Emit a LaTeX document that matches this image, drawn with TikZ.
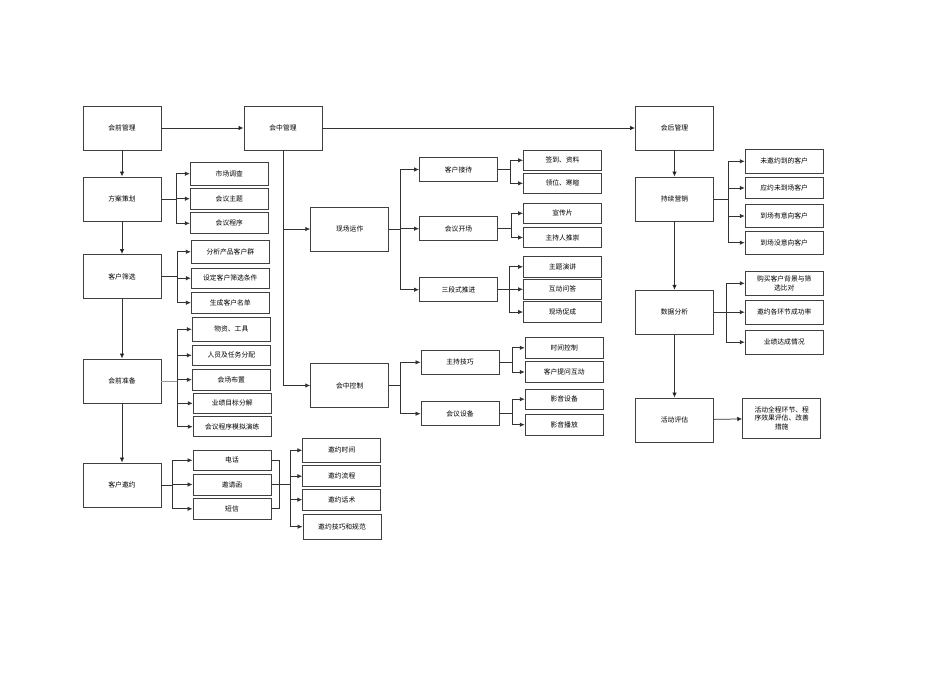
\documentclass[tikz,border=0pt]{standalone}
\usepackage{fontspec}
\setmainfont{Noto Sans CJK SC}
\usetikzlibrary{arrows.meta}

\begin{document}
\begin{tikzpicture}[x=1pt, y=-1pt, font=\fontsize{6.8}{8.2}\selectfont,
  bigbox/.style={shape=rectangle, draw=black!75, line width=0.9pt, minimum width=78, minimum height=44},
  subbox/.style={shape=rectangle, draw=black!75, line width=0.9pt, minimum width=78, minimum height=#1, inner sep=1pt, align=center},
  subbox/.default=21,
  link/.style={draw=black!80, line width=0.75pt},
  arr/.style={link, -{Latex[length=5pt,width=4.5pt]}}]
\useasboundingbox (0,0) rectangle (950,672);
% main boxes
\node[bigbox] (qg) at (122,128) {会前管理};
\node[bigbox] (zg) at (283,128) {会中管理};
\node[bigbox] (hg) at (674.5,128) {会后管理};
\node[bigbox] (fa) at (122,199) {方案策划};
\node[bigbox] (sx) at (122,276.5) {客户筛选};
\node[bigbox] (zb) at (122,381) {会前准备};
\node[bigbox] (yy) at (122,485) {客户邀约};
\node[bigbox] (xc) at (349.7,229) {现场运作};
\node[bigbox] (kc) at (349.7,385.5) {会中控制};
\node[bigbox] (cx) at (674.5,199) {持续营销};
\node[bigbox] (sj) at (674.5,312.3) {数据分析};
\node[bigbox] (pg) at (674.5,420) {活动评估};
% before the meeting
\node[subbox=22.7] (scdc) at (229.3,173.7) {市场调查};
\node[subbox] (hyzt) at (229.3,198.7) {会议主题};
\node[subbox] (hycx) at (229.3,223.3) {会议程序};
\node[subbox=23.7] (fxcp) at (230.3,251.8) {分析产品客户群};
\node[subbox=20.3] (sdtj) at (230.3,278.2) {设定客户筛选条件};
\node[subbox=20.7] (scmd) at (230.3,302.7) {生成客户名单};
\node[subbox=24] (wz) at (231.3,329.3) {物资、工具};
\node[subbox=20] (ry) at (231.3,355.3) {人员及任务分配};
\node[subbox=20.7] (hcbz) at (231.3,379.7) {会场布置};
\node[subbox=20] (yjmb) at (232.2,403.3) {业绩目标分解};
\node[subbox=20] (mnyl) at (232.2,426.7) {会议程序模拟演练};
\node[subbox=20.7] (dh) at (232,460.3) {电话};
\node[subbox] (yqh) at (232,484.5) {邀请函};
\node[subbox] (dx) at (232,508.8) {短信};
\node[subbox=24] (yysj) at (341.7,450.3) {邀约时间};
\node[subbox] (yylc) at (341.7,476.2) {邀约流程};
\node[subbox=20.7] (yyhs) at (341.7,499.7) {邀约话术};
\node[subbox=25.3] (yyjq) at (342,526.7) {邀约技巧和规范};
% during the meeting
\node[subbox=24.3] (khjd) at (458.5,169.5) {客户接待};
\node[subbox=24] (hykc) at (458.5,228.7) {会议开场};
\node[subbox=24] (sdts) at (458.5,289.7) {三段式推进};
\node[subbox=20.7] (qd) at (562.5,160.3) {签到、资料};
\node[subbox=20] (lw) at (562.5,183.3) {领位、寒暄};
\node[subbox=20] (xcp) at (562.5,213.3) {宣传片};
\node[subbox=20.3] (zcr) at (562.5,237.5) {主持人推崇};
\node[subbox=20.3] (ztyj) at (562.5,266.8) {主题演讲};
\node[subbox=20] (hdwd) at (562.5,289.3) {互动问答};
\node[subbox=20.7] (xccc) at (562.5,312) {现场促成};
\node[subbox=23.3] (zcjq) at (460,362.3) {主持技巧};
\node[subbox=24] (hysb) at (460,413.7) {会议设备};
\node[subbox] (sjkz) at (564.2,347.8) {时间控制};
\node[subbox=20.7] (khtw) at (564.2,372) {客户提问互动};
\node[subbox=20.3] (yysb) at (564.2,399.2) {影音设备};
\node[subbox=20.7] (yybf) at (564.2,424.7) {影音播放};
% after the meeting
\node[subbox=24] (wyy) at (784.2,161.3) {未邀约到的客户};
\node[subbox=20.7] (yyw) at (784.2,188) {应约未到场客户};
\node[subbox=23.3] (dcyyx) at (784.2,216) {到场有意向客户};
\node[subbox=23.3] (dcmyx) at (784.2,242.7) {到场没意向客户};
\node[subbox=23.3] (gmkh) at (784.2,283.3) {购买客户背景与筛\\选比对};
\node[subbox=24.3] (yygh) at (784.2,312.2) {邀约各环节成功率};
\node[subbox=24.3] (yjdc) at (784.2,342.2) {业绩达成情况};
\node[subbox=40] (hdqc) at (781.7,418.3) {活动全程环节、程\\序效果评估、改善\\措施};
% main flow
\path[arr] (qg) edge (zg);
\path[arr] (zg) edge (hg);
\path[arr] (qg) edge (fa);
\path[arr] (fa) edge (sx);
\path[arr] (sx) edge (zb);
\path[arr] (zb) edge (yy);
\path[arr] (hg) edge (cx);
\path[arr] (cx) edge (sj);
\path[arr] (sj) edge (pg);
\path[arr] (pg) edge (hdqc);
\draw[arr] (zg.south) |- (xc.west);
\draw[arr] (zg.south) |- (kc.west);
% forks
\foreach \c in {scdc,hyzt,hycx} \draw[arr] (fa.east) -- ++(15,0) |- (\c.west);
\foreach \c in {fxcp,sdtj,scmd} \draw[arr] (sx.east) -- ++(16,0) |- (\c.west);
\draw[link, draw=black!40] (zb.east) -- ++(16,0);
\foreach \c in {wz,ry,hcbz,yjmb,mnyl} \draw[arr] ([xshift=16]zb.east) |- (\c.west);
\foreach \c in {dh,yqh,dx} \draw[arr] (yy.east) -- ++(11,0) |- (\c.west);
\draw[link] (dh.east) -- ++(8,0) |- (dx.east);
\foreach \c in {yysj,yylc,yyhs,yyjq} \draw[arr] (yqh.east) -- ++(19,0) |- (\c.west);
\foreach \c in {khjd,hykc,sdts} \draw[arr] (xc.east) -- ++(11,0) |- (\c.west);
\foreach \c in {qd,lw} \draw[arr] (khjd.east) -- ++(12,0) |- (\c.west);
\foreach \c in {xcp,zcr} \draw[arr] (hykc.east) -- ++(13,0) |- (\c.west);
\foreach \c in {ztyj,hdwd,xccc} \draw[arr] (sdts.east) -- ++(11,0) |- (\c.west);
\foreach \c in {zcjq,hysb} \draw[arr] (kc.east) -- ++(11,0) |- (\c.west);
\foreach \c in {sjkz,khtw} \draw[arr] (zcjq.east) -- ++(13,0) |- (\c.west);
\foreach \c in {yysb,yybf} \draw[arr] (hysb.east) -- ++(13,0) |- (\c.west);
\foreach \c in {wyy,yyw,dcyyx,dcmyx} \draw[arr] (cx.east) -- ++(14,0) |- (\c.west);
\foreach \c in {gmkh,yygh,yjdc} \draw[arr] (sj.east) -- ++(12,0) |- (\c.west);
\end{tikzpicture}
\end{document}
